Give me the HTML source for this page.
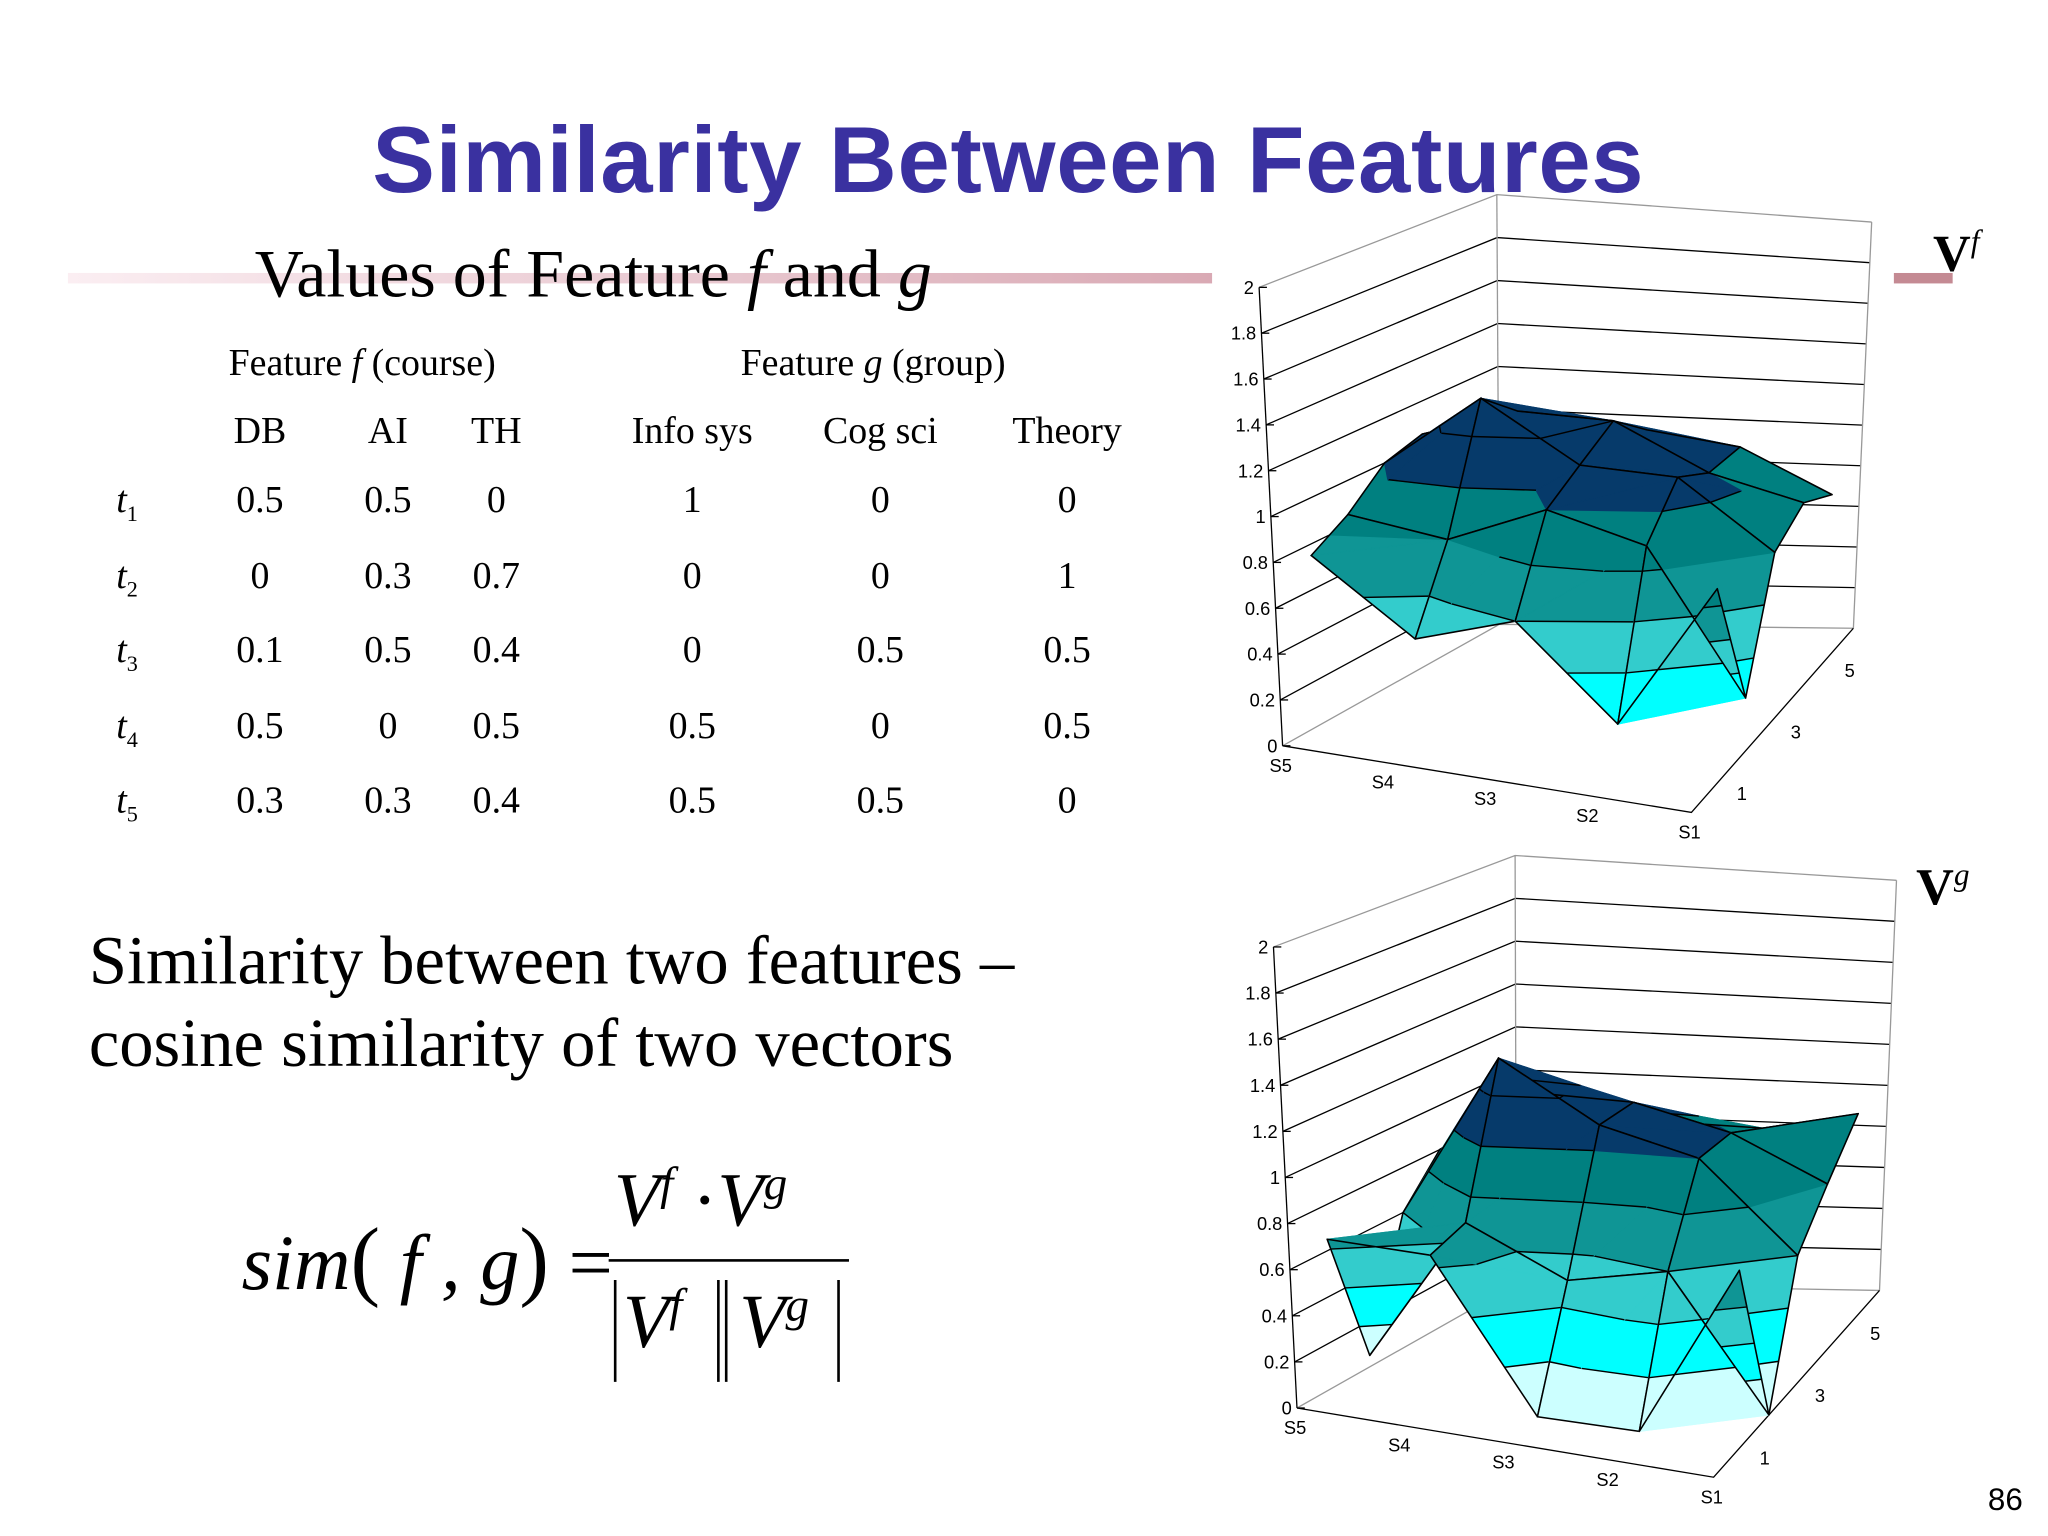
<!DOCTYPE html>
<html><head><meta charset="utf-8">
<style>
html,body{margin:0;padding:0;background:#fff;width:2048px;height:1536px;overflow:hidden}
#w{position:absolute;left:0;top:0;width:1568px;height:1176px;transform:scale(1.306122);transform-origin:0 0;background:#fff}
.t{position:absolute;font-family:"Liberation Serif",serif;color:#000;white-space:nowrap}
.c{text-align:center;width:80px;margin-left:-40px}
.bar{position:absolute;width:2px;background:#000}
</style></head><body>
<div id="w">
<div class="t" style="left:285px;top:87px;line-height:72px;font-family:'Liberation Sans',sans-serif;font-weight:bold;font-size:72px;color:#3a31a0;letter-spacing:0.5px">Similarity Between Features</div>
<div style="position:absolute;left:52px;top:209px;width:876px;height:8px;background:linear-gradient(90deg,#fbeef2,#d9a9b4)"></div>
<div style="position:absolute;left:1450px;top:209px;width:45px;height:8px;background:#c48a93"></div>
<div class="t" style="left:195px;top:181px;font-size:52px">Values of Feature <i>f</i> and <i>g</i></div>
<div class="t" style="left:175px;top:262px;font-size:29px">Feature <i>f</i> (course)</div>
<div class="t" style="left:567px;top:262px;font-size:29px">Feature <i>g</i> (group)</div>
<div id="tbl"></div>
<div class="t" style="left:68px;top:705px;font-size:52.5px;line-height:63px">Similarity between two features –<br>cosine similarity of two vectors</div>
<div style="position:absolute;left:0;top:0">
<div class="t" style="left:185px;top:925px;font-size:60px;font-style:italic">sim<span style="font-style:normal;font-size:68px">(</span> <i>f</i> , g<span style="font-style:normal;font-size:68px">)</span> <span style="font-style:normal">=</span></div>
<div class="t" style="left:470px;top:885px;font-size:58px;font-style:italic">V<sup style="font-size:36px">f</sup> <span style="font-style:normal">·</span>V<sup style="font-size:36px">g</sup></div>
<div style="position:absolute;left:466px;top:964px;width:184px;height:2px;background:#000"></div>
<div class="bar" style="left:470px;top:980px;height:78px"></div>
<div class="t" style="left:477px;top:978px;font-size:58px;font-style:italic">V<sup style="font-size:36px">f</sup></div>
<div class="bar" style="left:549px;top:980px;height:78px"></div>
<div class="bar" style="left:555px;top:980px;height:78px"></div>
<div class="t" style="left:566px;top:978px;font-size:58px;font-style:italic">V<sup style="font-size:36px">g</sup></div>
<div class="bar" style="left:641px;top:980px;height:78px"></div>
</div>
<div class="t" style="left:1480px;top:170px;font-size:40px;font-weight:bold">V<sup style="font-size:24px;font-weight:normal;font-style:italic">f</sup></div>
<div class="t" style="left:1467px;top:655px;font-size:40px;font-weight:bold">V<sup style="font-size:24px;font-weight:normal;font-style:italic">g</sup></div>
<div class="t" style="left:1522px;top:1135px;font-size:24px;font-family:'Liberation Sans',sans-serif">86</div>
<svg id="svg" width="1568" height="1176" style="position:absolute;left:0;top:0"></svg>
</div>
<script>
const colX=[199,297,380,530,674,817];
const colHeads=["DB","AI","TH","Info sys","Cog sci","Theory"];
const rowLabels=["1","2","3","4","5"];
const tableVals=[["0.5","0.5","0","1","0","0"],["0","0.3","0.7","0","0","1"],["0.1","0.5","0.4","0","0.5","0.5"],["0.5","0","0.5","0.5","0","0.5"],["0.3","0.3","0.4","0.5","0.5","0"]];
const tbl=document.getElementById('tbl');
colHeads.forEach((h,i)=>{const d=document.createElement('div');d.className='t c';d.style.cssText=`left:${colX[i]}px;top:314px;font-size:29px;width:140px;margin-left:-70px`;d.textContent=h;


tbl.appendChild(d);});
tableVals.forEach((r,j)=>{const y=367+j*57.5;
const l=document.createElement('div');l.className='t';l.style.cssText=`left:89px;top:${y}px;font-size:29px`;l.innerHTML=`<i>t</i><sub style="font-size:17px">${rowLabels[j]}</sub>`;


tbl.appendChild(l);
r.forEach((v,i)=>{const d=document.createElement('div');d.className='t c';d.style.cssText=`left:${colX[i]}px;top:${y}px;font-size:29px`;d.textContent=v;


tbl.appendChild(d);});});

// surface data (rows: depth 1..5 front->back, cols S5..S1)
const xCats=["S5","S4","S3","S2","S1"];
const yTicks=["1","3","5"];
const zTicks=[0,0.2,0.4,0.6,0.8,1,1.2,1.4,1.6,1.8,2];
const vf=[[0.75,0.45,0.6,0.2,0.9],[0.85,0.8,1.0,0.9,0.25],[1.0,1.35,1.1,1.1,0.8],[1.05,1.2,1.2,1.0,0.9],[1.0,1.1,1.05,1.0,0.8]];
const vg=[[0.65,0.65,0.0,0.0,0.8],[0.05,0.7,0.5,0.6,0.0],[0.6,1.35,1.1,1.0,0.6],[0.8,1.1,1.1,1.0,0.8],[0.8,0.95,0.9,0.9,1.0]];
const bandColors=['#ccffff','#00ffff','#33cccc','#0f9595','#008080','#063a6a','#063a6a','#063a6a','#063a6a','#063a6a'];
const svg=document.getElementById('svg');const NS='http://www.w3.org/2000/svg';
function mk(t,a,name){const e=document.createElementNS(NS,t);for(const k in a)e.setAttribute(k,a[k]);


svg.appendChild(e);return e;}
function bil(c,u,v){
 const a=[c[0][0]+(c[1][0]-c[0][0])*u,c[0][1]+(c[1][1]-c[0][1])*u];
 const b=[c[3][0]+(c[2][0]-c[3][0])*u,c[3][1]+(c[2][1]-c[3][1])*u];
 return [a[0]+(b[0]-a[0])*v,a[1]+(b[1]-a[1])*v];}
function clip(poly,lo,hi){
 function cut(p,keep,lev){const out=[];for(let i=0;i<p.length;i++){const A=p[i],B=p[(i+1)%p.length];const ka=keep(A[2]),kb=keep(B[2]);
  if(ka)out.push(A);if(ka!==kb){const t=(lev-A[2])/(B[2]-A[2]);out.push([A[0]+t*(B[0]-A[0]),A[1]+t*(B[1]-A[1]),lev]);}}return out;}
 let p=cut(poly,z=>z>=lo,lo);if(p.length<3)return [];p=cut(p,z=>z<=hi,hi);return p;}
function chart(cfg,data){
 const P=(u,v,z)=>{const f=bil(cfg.floor,u,v),t=bil(cfg.top,u,v);return [f[0]+(t[0]-f[0])*z/2,f[1]+(t[1]-f[1])*z/2];};
 const S=p=>p.map(q=>q[0].toFixed(1)+','+q[1].toFixed(1)).join(' ');
 zTicks.forEach(z=>{const a=P(0,0,z),b=P(0,1,z),c=P(1,1,z);
  mk('polyline',{points:S([a,b,c]),fill:'none',stroke:z===0||z===2?'#999':'#000','stroke-width':1},'gridline');
  mk('line',{x1:a[0],y1:a[1],x2:a[0]+6,y2:a[1],stroke:'#000'},'z-tick');
  const t=mk('text',{x:a[0]-4,y:a[1]+5,'text-anchor':'end','font-family':'Liberation Sans,sans-serif','font-size':14},'z-tick-label');t.textContent=z;});
 mk('polyline',{points:S([P(0,0,0),P(0,0,2)]),stroke:'#000',fill:'none'},'z-axis');
 mk('polyline',{points:S([P(0,1,0),P(0,1,2)]),stroke:'#999',fill:'none'},'back-edge');
 mk('polyline',{points:S([P(1,1,0),P(1,1,2)]),stroke:'#999',fill:'none'},'back-edge');
 mk('polyline',{points:S([P(0,0,0),P(1,0,0),P(1,1,0)]),stroke:'#000',fill:'none'},'floor-axes');
 xCats.forEach((s,i)=>{const p=P(i/4,0,0);const t=mk('text',{x:p[0]-10,y:p[1]+20,'font-family':'Liberation Sans,sans-serif','font-size':14},'x-tick-label');t.textContent=s;});
 yTicks.forEach((s,i)=>{const p=P(1,(1+2*i)/6,0);const t=mk('text',{x:p[0]+14,y:p[1]+14,'font-family':'Liberation Sans,sans-serif','font-size':14},'y-tick-label');t.textContent=s;});
 const U=i=>i/4,V=j=>(j+1)/6;
 const quads=[];for(let j=0;j<4;j++)for(let i=0;i<4;i++)quads.push([i,j]);
 quads.sort((a,b)=>((b[1]-b[0])-(a[1]-a[0])));
 quads.forEach(([i,j])=>{
  const c=[[U(i),V(j),data[j][i]],[U(i+1),V(j),data[j][i+1]],[U(i+1),V(j+1),data[j+1][i+1]],[U(i),V(j+1),data[j+1][i]]];
  const tris=[[c[0],c[1],c[2]],[c[0],c[2],c[3]]];
  tris.forEach(tr=>{for(let b=0;b<10;b++){const pp=clip(tr,b*0.2,(b+1)*0.2);if(pp.length<3)continue;
   const pts=pp.map(q=>P(q[0],q[1],q[2]));
   mk('polygon',{points:S(pts),fill:bandColors[b],stroke:bandColors[b],'stroke-width':0.8},'surface-band');}
   for(let b=1;b<10;b++){const L=b*0.2;const seg=[];for(let k=0;k<3;k++){const A=tr[k],B=tr[(k+1)%3];if((A[2]-L)*(B[2]-L)<0){const t=(L-A[2])/(B[2]-A[2]);seg.push(P(A[0]+t*(B[0]-A[0]),A[1]+t*(B[1]-A[1]),L));}}
    if(seg.length===2)mk('polyline',{points:S(seg),stroke:'#000','stroke-width':1.1,fill:'none'},'contour-line');}
  });
  mk('polygon',{points:S(c.map(q=>P(q[0],q[1],q[2]))),fill:'none',stroke:'#000','stroke-width':1.2,'stroke-linejoin':'round'},'surface-patch-edge');
 });
}
chart({floor:[[982,571],[1295,622],[1419,481],[1148,478]],top:[[964,220],[1290,290],[1433,170],[1146,149]]},vf);
chart({floor:[[993,1078],[1312,1131],[1439,988],[1161,983]],top:[[975,725],[1305,790],[1452,674],[1160,655]]},vg);
</script>
</body></html>
